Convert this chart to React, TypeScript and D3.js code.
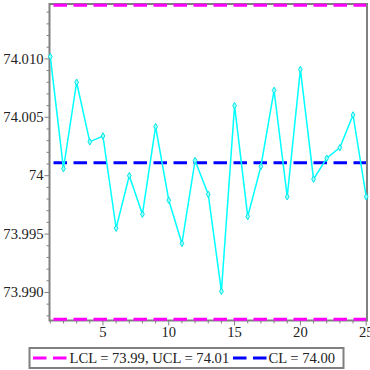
import React, {useEffect, useRef} from "react";
import * as d3 from "d3";

// sample number and sample means
const samples = d3.range(1, 26);
const means = [
    74.0102, 74.0006, 74.0080, 74.0029, 74.0034, 73.9955, 74.0000, 73.9967, 74.0042, 73.9979,
    73.9942, 74.0013, 73.9984, 73.9901, 74.0060, 73.9965, 74.0008, 74.0073, 73.9982, 74.0091,
    73.9997, 74.0015, 74.0024, 74.0052, 73.9982
];
const lcl = 73.9877;
const ucl = 74.0146;
const cl = 74.0011;
const yTicks = [73.990, 73.995, 74, 74.005, 74.010];
const yTickLabels = ["73.990", "73.995", "74", "74.005", "74.010"];
const xTicks = [5, 10, 15, 20, 25];
const legendLabels = ["LCL = 73.99, UCL = 74.01", "CL = 74.00"];

const W = 370, H = 370;
const left = 49.5, right = 367, top = 4, bottom = 320.5;
const FONT = "'Liberation Serif', serif";
const FS = 14.6;
const GREY = "#808080";

const App = () => {
    const ref = useRef(null);

    useEffect(() => {
        const svg = d3.select(ref.current);
        svg.selectAll("*").remove();

        const x = d3.scaleLinear().domain([1, 25]).range([left + 0.8, right - 0.8]);
        const y = d3.scaleLinear().domain([73.9876, 74.0147]).range([bottom, top]);

        // minor ticks
        const yMinor = d3.range(73.988, 74.0145, 0.001).filter(v => !yTicks.some(t => Math.abs(t - v) < 1e-6));
        svg.append("g").selectAll("line").data(yMinor).join("line")
            .attr("x1", left - 3).attr("x2", left)
            .attr("y1", d => y(d)).attr("y2", d => y(d))
            .attr("stroke", GREY).attr("stroke-width", 1);
        svg.append("g").selectAll("line").data(yTicks).join("line")
            .attr("x1", left - 5).attr("x2", left)
            .attr("y1", d => y(d)).attr("y2", d => y(d))
            .attr("stroke", GREY).attr("stroke-width", 1);
        svg.append("g").selectAll("text").data(yTicks).join("text")
            .attr("x", left - 6).attr("y", d => y(d) + 4.7)
            .attr("text-anchor", "end")
            .attr("font-family", FONT).attr("font-size", FS).attr("fill", "#222")
            .text((d, i) => yTickLabels[i]);

        const xMinor = samples.filter(v => v % 5 !== 0);
        svg.append("g").selectAll("line").data(xMinor).join("line")
            .attr("x1", d => x(d)).attr("x2", d => x(d))
            .attr("y1", bottom).attr("y2", bottom + 3)
            .attr("stroke", GREY).attr("stroke-width", 1);
        svg.append("g").selectAll("line").data(xTicks).join("line")
            .attr("x1", d => x(d)).attr("x2", d => x(d))
            .attr("y1", bottom).attr("y2", bottom + 5)
            .attr("stroke", GREY).attr("stroke-width", 1);
        svg.append("g").selectAll("text").data(xTicks).join("text")
            .attr("x", d => x(d)).attr("y", bottom + 16.5)
            .attr("text-anchor", "middle")
            .attr("font-family", FONT).attr("font-size", FS).attr("fill", "#222")
            .text(d => d);

        // frame
        svg.append("rect")
            .attr("x", left).attr("y", top)
            .attr("width", right - left).attr("height", bottom - top)
            .attr("fill", "none").attr("stroke", GREY).attr("stroke-width", 2);

        // control limits
        const hline = (v, colour) => svg.append("line")
            .attr("x1", left + 1).attr("x2", right - 1)
            .attr("y1", y(v)).attr("y2", y(v))
            .attr("stroke", colour).attr("stroke-width", 3)
            .attr("stroke-dasharray", "13.5,6.5")
            .attr("stroke-dashoffset", -3);
        hline(ucl, "#ff00ff");
        hline(lcl, "#ff00ff");
        hline(cl, "#0000ff");

        // sample means
        const line = d3.line().x((d, i) => x(samples[i])).y(d => y(d));
        svg.append("path").datum(means)
            .attr("d", line)
            .attr("fill", "none").attr("stroke", "#00ffff").attr("stroke-width", 1.5);
        const sym = d3.symbol().type(d3.symbolDiamond).size(12);
        svg.append("g").selectAll("path").data(means).join("path")
            .attr("transform", (d, i) => `translate(${x(samples[i])},${y(d)})`)
            .attr("d", sym)
            .attr("fill", "#9ff").attr("stroke", "#00e5e5").attr("stroke-width", 1);

        // legend
        const lg = svg.append("g");
        lg.append("rect")
            .attr("x", 29.5).attr("y", 348).attr("width", 314).attr("height", 20)
            .attr("fill", "none").attr("stroke", GREY).attr("stroke-width", 2);
        const items = [
            {x0: 33, tx: 69.5, colour: "#ff00ff", label: legendLabels[0]},
            {x0: 233, tx: 268.5, colour: "#0000ff", label: legendLabels[1]}
        ];
        items.forEach(it => {
            lg.append("line")
                .attr("x1", it.x0).attr("x2", it.x0 + 35)
                .attr("y1", 358).attr("y2", 358)
                .attr("stroke", it.colour).attr("stroke-width", 3)
                .attr("stroke-dasharray", "13.5,6.5");
            lg.append("text")
                .attr("x", it.tx).attr("y", 363)
                .attr("font-family", FONT).attr("font-size", FS).attr("fill", "#222")
                .text(it.label);
        });
    }, []);

    return (
        <svg width={W} height={H} ref={ref}
             style={{position: "absolute", left: 0, top: 0, background: "#fff"}}/>
    );
};

export default App;
